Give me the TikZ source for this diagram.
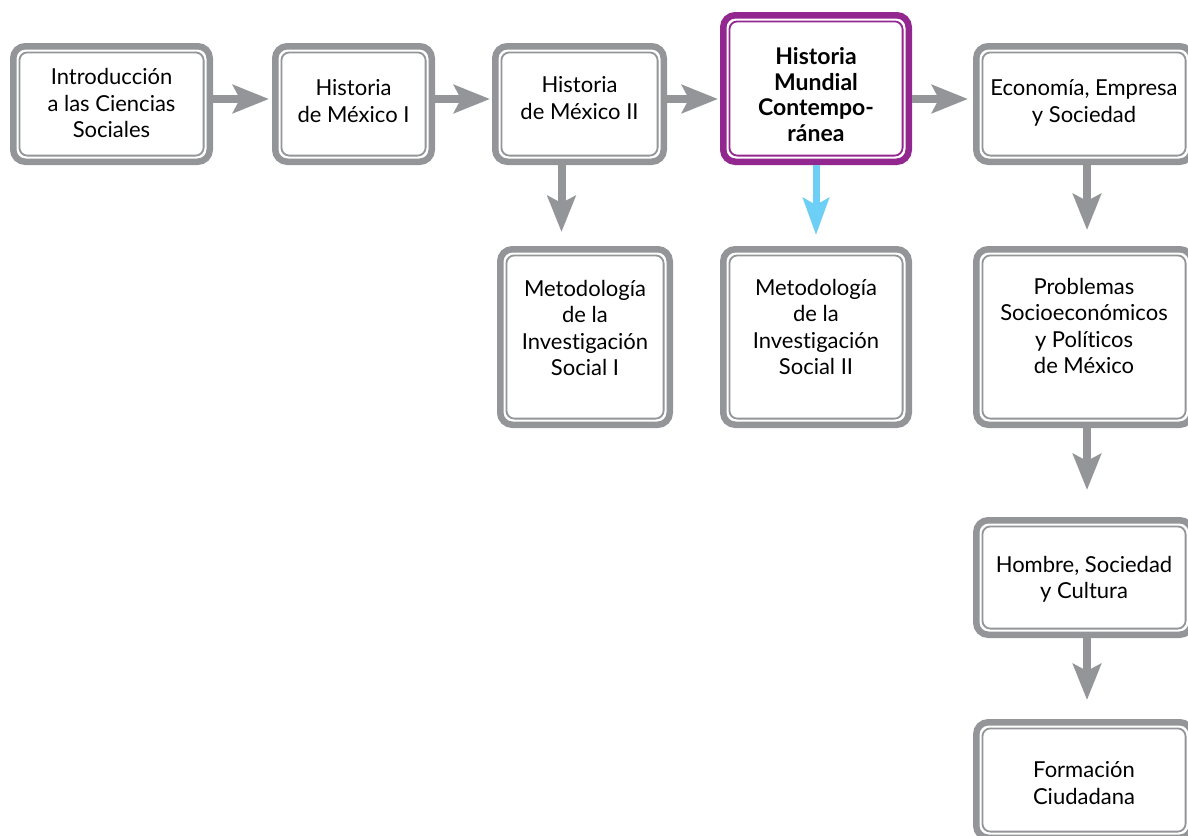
\documentclass[tikz,border=0pt]{standalone}
\usepackage{fontspec}
\setmainfont[Ligatures=NoCommon]{Lato}
\usetikzlibrary{arrows.meta}
\definecolor{boxgray}{HTML}{939598}
\definecolor{hmpurple}{HTML}{92278F}
\definecolor{hmblue}{HTML}{6DCFF6}
\tikzset{
  box/.style={draw=boxgray, line width=6.5pt, rounded corners=12pt, fill=white, inner sep=0pt, outer sep=3.25pt},
  pbox/.style={box, draw=hmpurple},
  innerline/.style={draw=boxgray, line width=1.8pt, rounded corners=8pt},
  pinnerline/.style={innerline, draw=hmpurple},
  txt/.style={align=center, font=\fontsize{22}{26.5}\selectfont, text=black, inner sep=0pt},
  btxt/.style={txt, font=\fontsize{23}{25.5}\selectfont\bfseries},
  flow/.style={draw=boxgray, line width=8pt, -{Stealth[length=36pt,width=28pt,inset=7pt]}},
  bflow/.style={draw=hmblue, line width=7pt, -{Stealth[length=37pt,width=26pt,inset=7pt]}},
}
\begin{document}
\begin{tikzpicture}[x=1pt,y=-1pt]
\useasboundingbox (0,0) rectangle (1188,835);
\clip (0,0) rectangle (1188,835);

% boxes
\node[box, minimum width=196.5pt, minimum height=115.5pt] (b1) at (111.5,104) {};
\node[box, minimum width=156.5pt, minimum height=115.5pt] (b2) at (353.5,104) {};
\node[box, minimum width=168.5pt, minimum height=115.5pt] (b3) at (579.5,104) {};
\node[pbox, minimum width=185.5pt, minimum height=146.5pt] (b4) at (816,88.5) {};
\node[box, minimum width=215.5pt, minimum height=115.5pt] (b5) at (1084,104) {};
\node[box, minimum width=169.5pt, minimum height=175.5pt] (m1) at (585,337) {};
\node[box, minimum width=185.5pt, minimum height=175.5pt] (m2) at (816,337) {};
\node[box, minimum width=215.5pt, minimum height=175.5pt] (p) at (1084,337) {};
\node[box, minimum width=215.5pt, minimum height=114.5pt] (h) at (1084,577.5) {};
\node[box, minimum width=215.5pt, minimum height=115.5pt] (f) at (1084,780) {};

% inner lines
\foreach \n in {b1,b2,b3,b5,m1,m2,p,h,f}{
  \draw[innerline] ([shift={(9.4pt,-9.4pt)}]\n.north west) rectangle ([shift={(-9.4pt,9.4pt)}]\n.south east);
}
\draw[pinnerline] ([shift={(9.4pt,-9.4pt)}]b4.north west) rectangle ([shift={(-9.4pt,9.4pt)}]b4.south east);

% texts
\node[txt] (b1t) at ([yshift=1pt]b1.center) {Introducción\\a las Ciencias\\Sociales};
\node[txt] (b2t) at ([yshift=3pt]b2.center) {Historia\\de México I};
\node[txt] (b3t) at ([yshift=6pt]b3.center) {Historia\\de México II};
\node[btxt] (b4t) at ([yshift=-6pt]b4.center) {Historia\\Mundial\\Contempo-\\ránea};
\node[txt] (b5t) at ([yshift=1pt]b5.center) {Economía, Empresa\\y Sociedad};
\node[txt] (m1t) at ([yshift=9pt]m1.center) {Metodología\\de la\\Investigación\\Social I};
\node[txt] (m2t) at ([yshift=10pt]m2.center) {Metodología\\de la\\Investigación\\Social II};
\node[txt] (pt) at ([yshift=11pt]p.center) {Problemas\\Socioeconómicos\\y Políticos\\de México};
\node[txt] (ht) at ([yshift=-2pt]h.center) {Hombre, Sociedad\\y Cultura};
\node[txt] (ft) at ([yshift=-3pt]f.center) {Formación\\Ciudadana};

% connectors
\draw[flow, shorten >=3pt] ([yshift=5pt]b1.east) -- ([yshift=5pt]b2.west);
\draw[flow, shorten >=2pt] ([yshift=5pt]b2.east) -- ([yshift=5pt]b3.west);
\draw[flow, shorten >=2pt] ([yshift=5pt]b3.east) -- ([yshift=5pt]b3.east -| b4.west);
\draw[flow, shorten >=5pt] ([yshift=5pt]b4.east |- b3.east) -- ([yshift=5pt]b5.west);
\draw[flow, shorten >=14pt] ([xshift=-18pt]b3.south) -- ([xshift=-18pt]b3.south |- m1.north);
\draw[bflow, shorten >=11pt] (b4.south) -- (m2.north);
\draw[flow, shorten >=16pt] ([xshift=3pt]b5.south) -- ([xshift=3pt]p.north);
\draw[flow, shorten >=27pt] ([xshift=3pt]p.south) -- ([xshift=3pt]h.north);
\draw[flow, shorten >=19pt] ([xshift=3pt]h.south) -- ([xshift=3pt]f.north);
\end{tikzpicture}
\end{document}
